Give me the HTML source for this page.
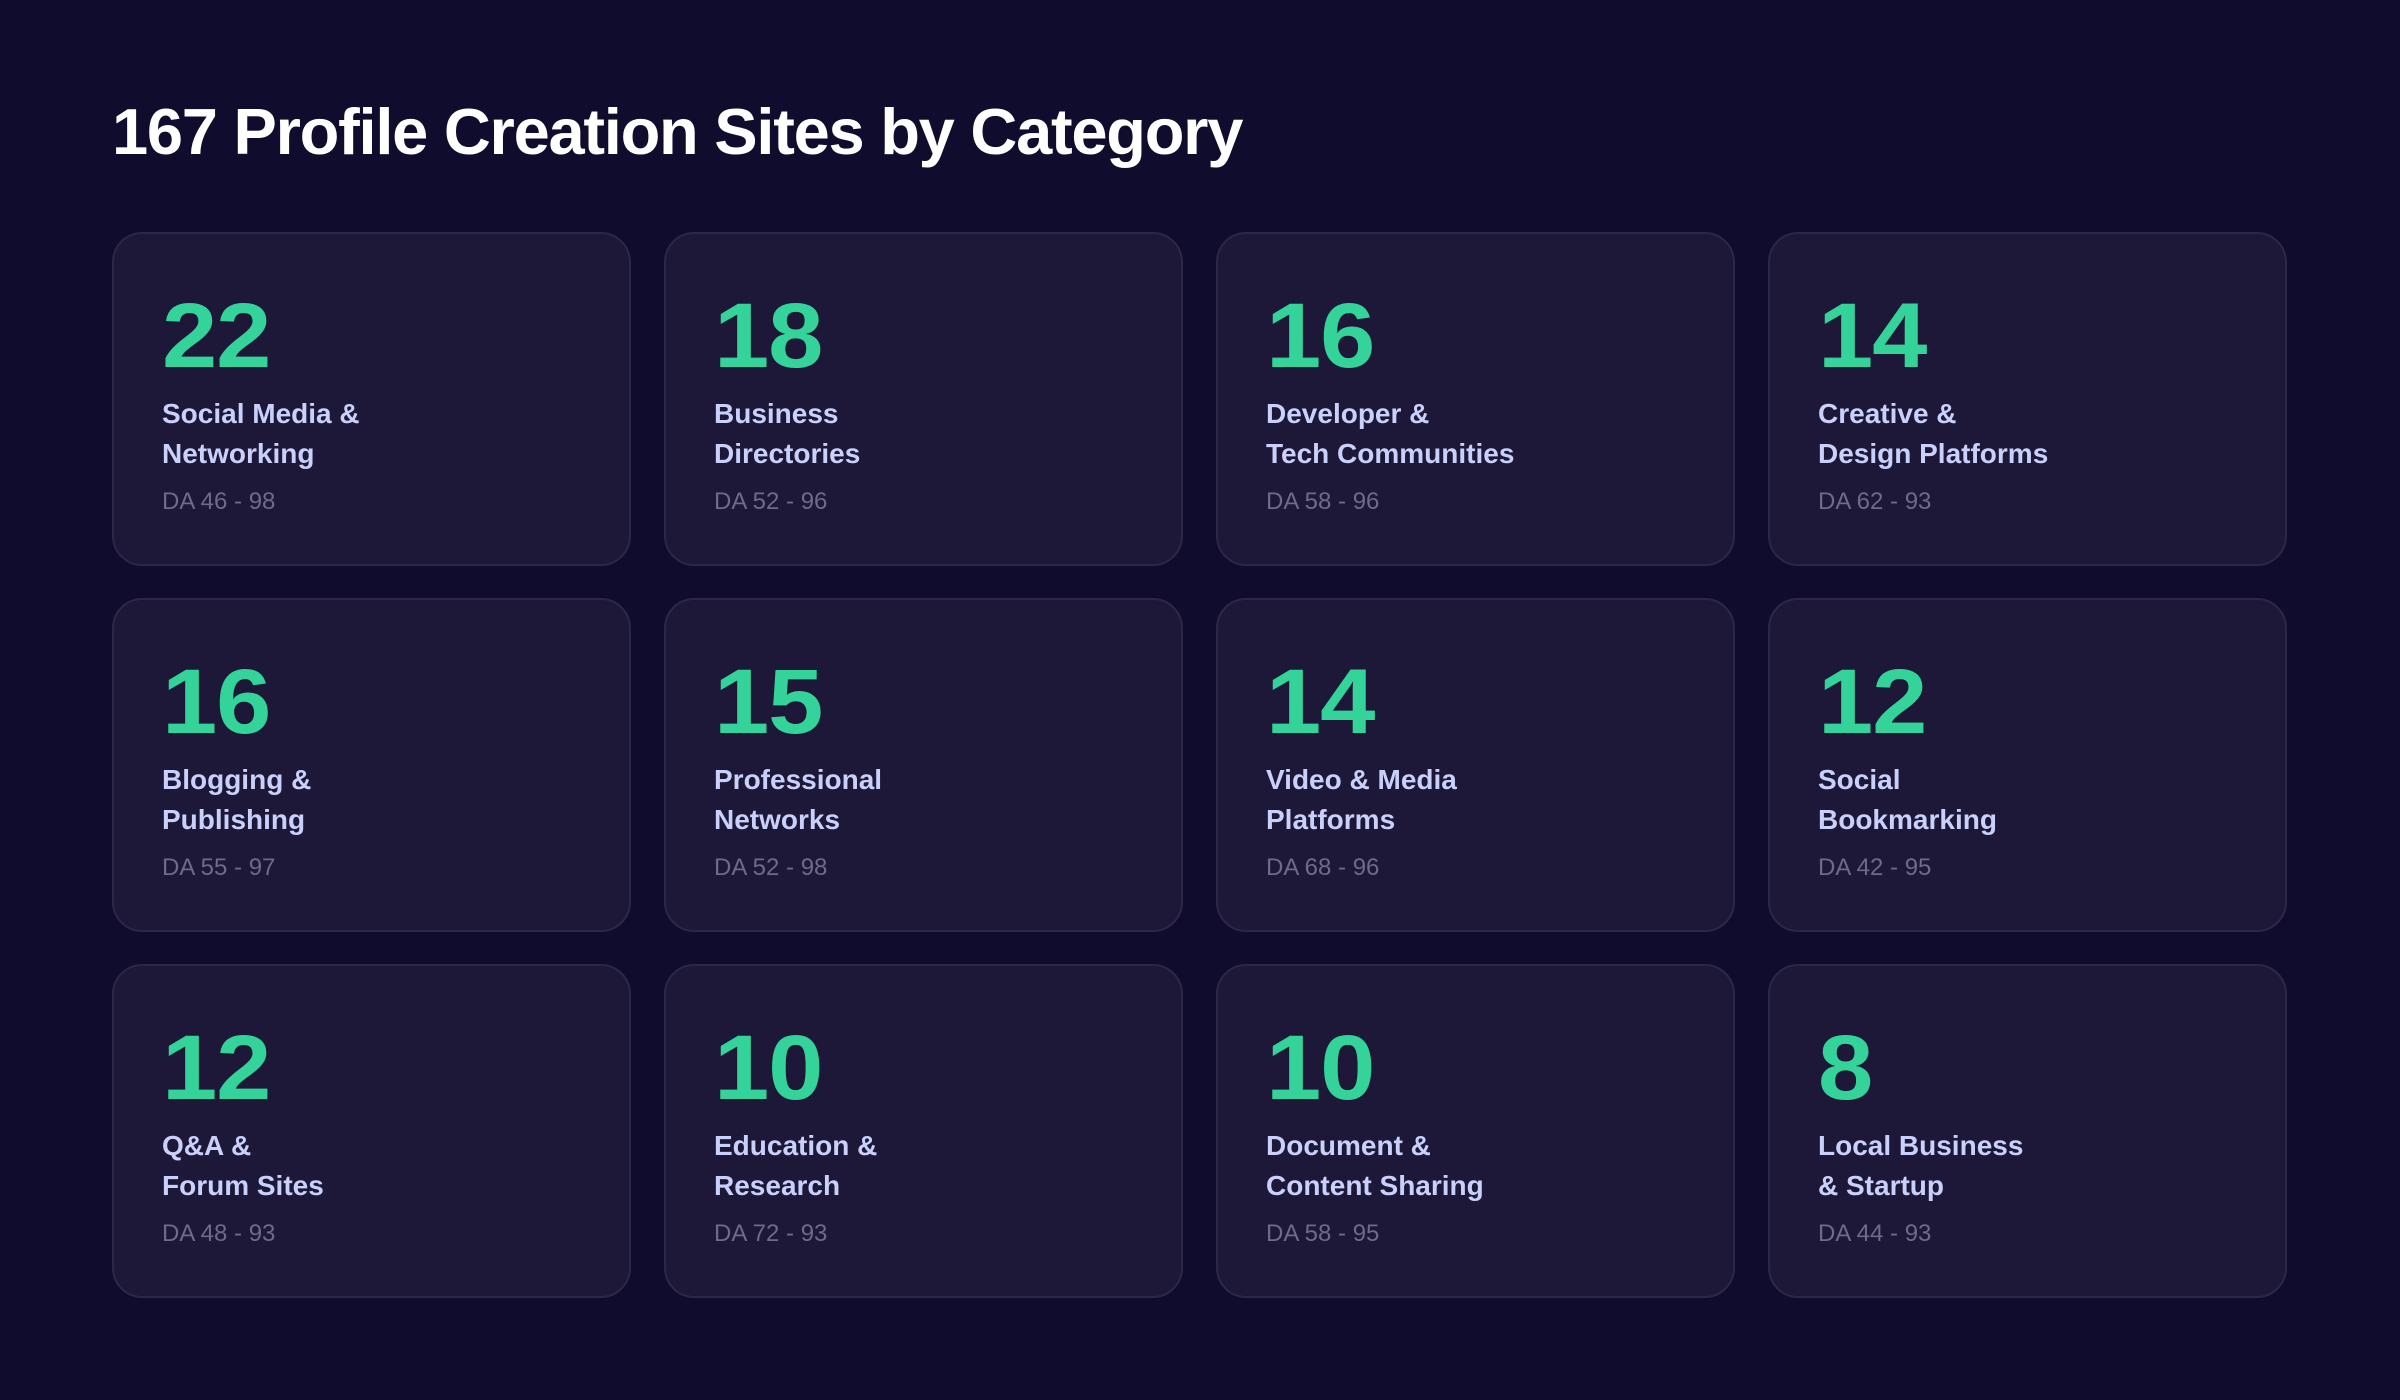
<!DOCTYPE html>
<html><head><meta charset="utf-8"><style>
html,body{margin:0;padding:0;}
body{width:2400px;height:1400px;background:#100c2e;font-family:"Liberation Sans",sans-serif;position:relative;overflow:hidden;}
h1{position:absolute;left:112px;top:94px;margin:0;font-size:65px;font-weight:900;color:#fff;letter-spacing:-1.25px;line-height:76px;}
.card{position:absolute;width:519px;height:334px;background:#1d1838;border:2px solid #2c2748;border-radius:30px;box-sizing:border-box;}
.n{position:absolute;left:48px;top:52px;font-size:92px;font-weight:900;color:#34d399;letter-spacing:-1px;line-height:100px;transform:scaleX(1.08);transform-origin:left;}
.l{position:absolute;left:48px;top:160px;font-size:28px;font-weight:700;color:#c9d0fb;line-height:40px;}
.d{position:absolute;left:48px;top:253px;font-size:24px;color:#6e6a88;line-height:30px;}
</style></head><body>
<h1>167 Profile Creation Sites by Category</h1>
<div class="card" style="left:112px;top:232px"><div class="n">22</div><div class="l">Social Media &amp;<br>Networking</div><div class="d">DA 46 - 98</div></div>
<div class="card" style="left:664px;top:232px"><div class="n">18</div><div class="l">Business<br>Directories</div><div class="d">DA 52 - 96</div></div>
<div class="card" style="left:1216px;top:232px"><div class="n">16</div><div class="l">Developer &amp;<br>Tech Communities</div><div class="d">DA 58 - 96</div></div>
<div class="card" style="left:1768px;top:232px"><div class="n">14</div><div class="l">Creative &amp;<br>Design Platforms</div><div class="d">DA 62 - 93</div></div>
<div class="card" style="left:112px;top:598px"><div class="n">16</div><div class="l">Blogging &amp;<br>Publishing</div><div class="d">DA 55 - 97</div></div>
<div class="card" style="left:664px;top:598px"><div class="n">15</div><div class="l">Professional<br>Networks</div><div class="d">DA 52 - 98</div></div>
<div class="card" style="left:1216px;top:598px"><div class="n">14</div><div class="l">Video &amp; Media<br>Platforms</div><div class="d">DA 68 - 96</div></div>
<div class="card" style="left:1768px;top:598px"><div class="n">12</div><div class="l">Social<br>Bookmarking</div><div class="d">DA 42 - 95</div></div>
<div class="card" style="left:112px;top:964px"><div class="n">12</div><div class="l">Q&amp;A &amp;<br>Forum Sites</div><div class="d">DA 48 - 93</div></div>
<div class="card" style="left:664px;top:964px"><div class="n">10</div><div class="l">Education &amp;<br>Research</div><div class="d">DA 72 - 93</div></div>
<div class="card" style="left:1216px;top:964px"><div class="n">10</div><div class="l">Document &amp;<br>Content Sharing</div><div class="d">DA 58 - 95</div></div>
<div class="card" style="left:1768px;top:964px"><div class="n">8</div><div class="l">Local Business<br>&amp; Startup</div><div class="d">DA 44 - 93</div></div>
</body></html>
